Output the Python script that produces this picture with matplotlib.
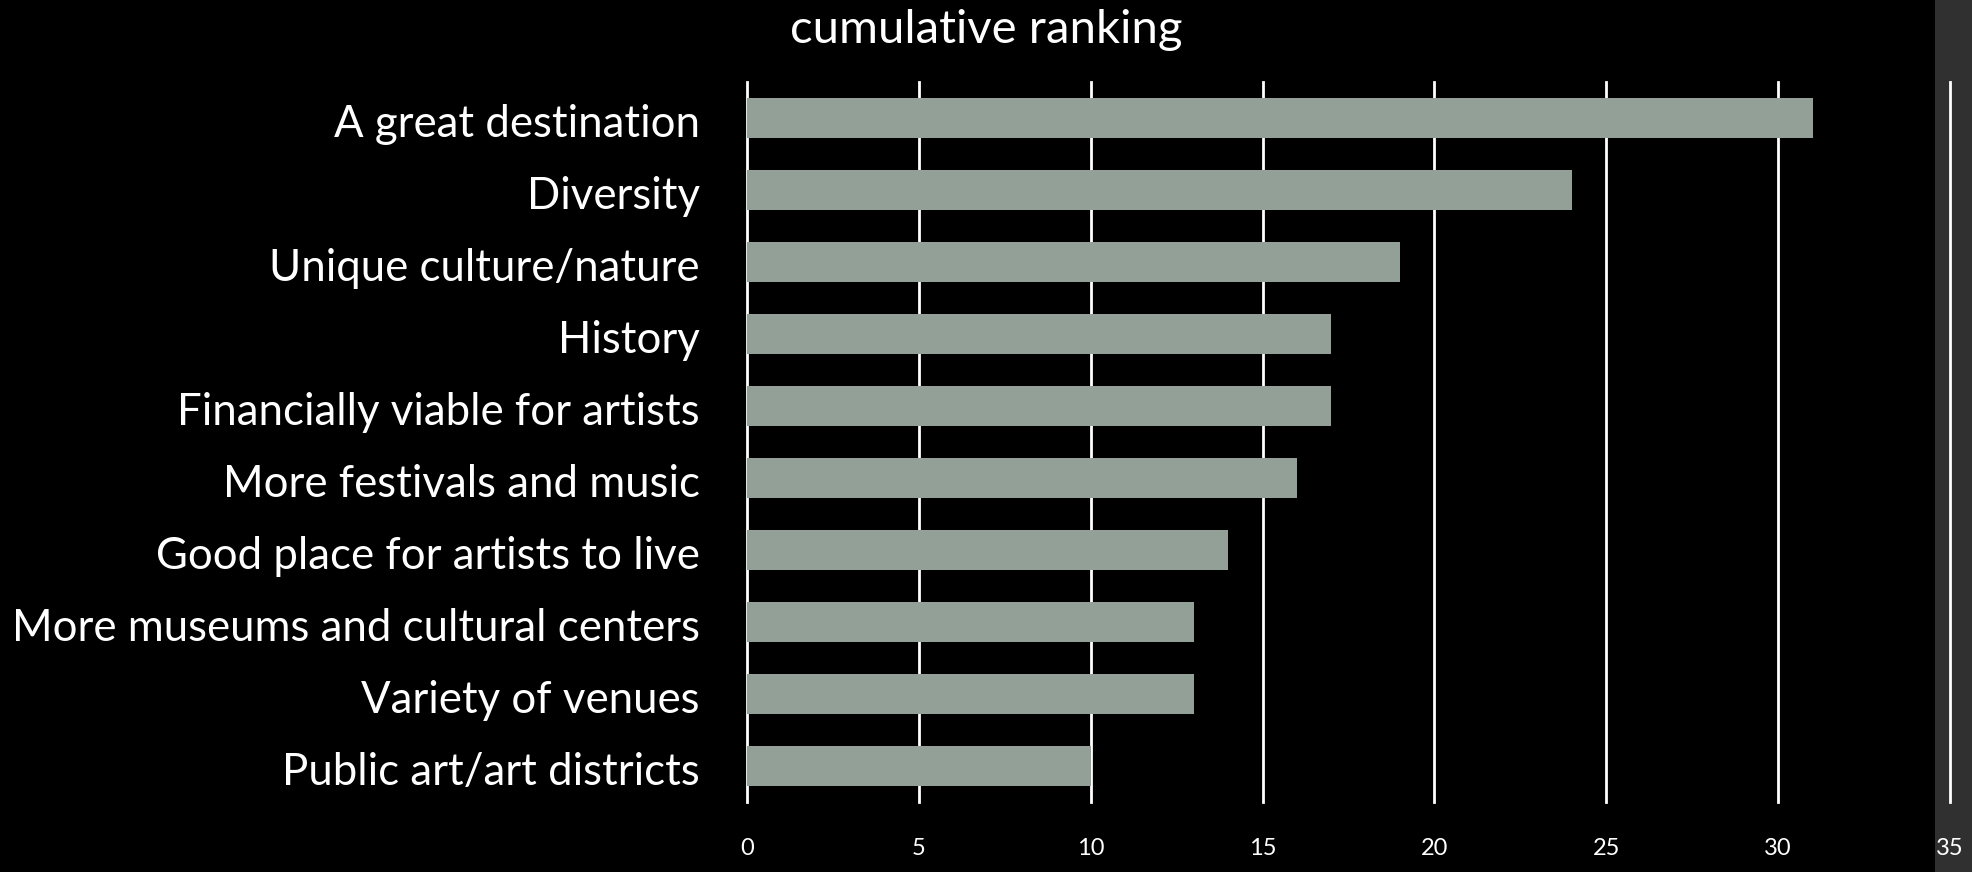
import matplotlib
matplotlib.use("Agg")
import matplotlib.pyplot as plt
from matplotlib.patches import Rectangle
from matplotlib.transforms import ScaledTranslation

# reasons, ordered top to bottom
categories = [
    "A great destination",
    "Diversity",
    "Unique culture/nature",
    "History",
    "Financially viable for artists",
    "More festivals and music",
    "Good place for artists to live",
    "More museums and cultural centers",
    "Variety of venues",
    "Public art/art districts",
]
scores = [31, 24, 19, 17, 17, 16, 14, 13, 13, 10]
x_ticks = [0, 5, 10, 15, 20, 25, 30, 35]

BAR_COLOR = "#92a098"
FONT = ["Lato", "DejaVu Sans"]

W, H = 1972, 872
fig = plt.figure(figsize=(W / 100, H / 100), dpi=100)
fig.patch.set_facecolor("black")

# grey strip along the right edge, kept behind the axes
fig.patches.append(Rectangle((1935 / W, 0), 1 - 1935 / W, 1,
                             transform=fig.transFigure, facecolor="#303030",
                             edgecolor="none", zorder=-5))

ax = fig.add_axes([747 / W, (H - 802) / H, (1950 - 747) / W, (802 - 82) / H])
ax.set_facecolor("none")
ax.set_zorder(2)

ypos = list(range(len(categories)))
ax.barh(ypos, scores, height=0.55, color=BAR_COLOR, zorder=3)

ax.set_xlim(0, 35)
ax.set_ylim(len(categories) - 0.5, -0.5)
ax.set_xticks(x_ticks)
ax.set_yticks(ypos)
ax.set_yticklabels(categories)

for x in x_ticks:
    ax.axvline(x, color="white", lw=2.0, zorder=1, clip_on=False)

for s in ax.spines.values():
    s.set_visible(False)

ax.tick_params(axis="both", length=0, colors="white")
ax.tick_params(axis="y", pad=34, labelsize=31.5)
ax.tick_params(axis="x", pad=26, labelsize=17)
nudge = ScaledTranslation(0, -2 / 72, fig.dpi_scale_trans)
for lab in ax.get_yticklabels():
    lab.set_transform(lab.get_transform() + nudge)
for lab in ax.get_yticklabels() + ax.get_xticklabels():
    lab.set_family(FONT)
    lab.set_color("white")

fig.text(0.5, 1 - 30 / H, "cumulative ranking", ha="center", va="center",
         color="white", fontsize=34, family=FONT)

fig.savefig("out.png", dpi=100, facecolor=fig.get_facecolor())
